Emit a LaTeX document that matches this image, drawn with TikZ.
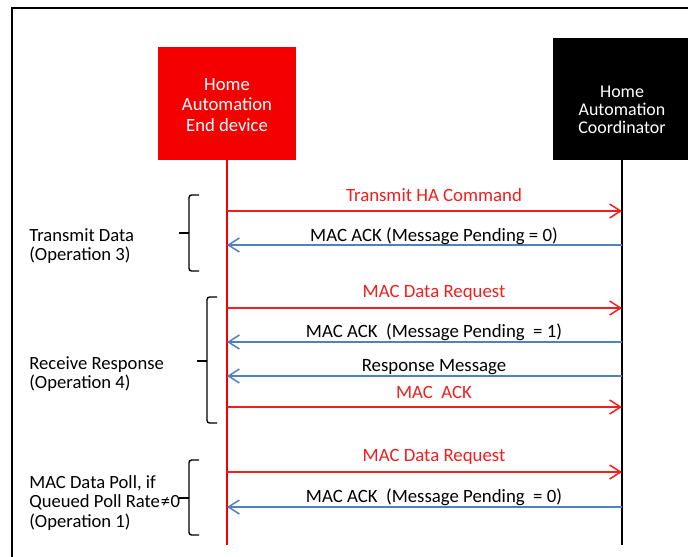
\documentclass[tikz,border=0pt]{standalone}
\usepackage{fontspec}
\setmainfont{Carlito}
\usepackage{xcolor}
\usepackage{tikz}
\usetikzlibrary{arrows.meta, positioning}
\definecolor{devred}{RGB}{245,0,0}
\definecolor{msgred}{RGB}{240,30,30}
\definecolor{ackblue}{RGB}{79,129,189}
\tikzset{
  % Participant boxes
  devbox/.style={rectangle, minimum width=2.76cm, minimum height=2.26cm, fill=devred},
  coordbox/.style={rectangle, minimum width=2.76cm, minimum height=2.44cm, fill=black},
  boxtext/.style={text=white, align=center, font=\fontsize{10.6}{11.8}\selectfont},
  % Messages
  reqarrow/.style={-{Straight Barb[length=2.2mm, width=2.8mm]}, msgred, line width=0.85pt},
  ackarrow/.style={-{Straight Barb[length=2.2mm, width=2.8mm]}, ackblue, line width=0.85pt},
  reqlabel/.style={text=msgred, font=\fontsize{10.7}{12}\selectfont},
  acklabel/.style={text=black, font=\fontsize{10.7}{12}\selectfont},
  % Operation groups
  bracket/.style={black, line width=0.8pt, rounded corners=1.5pt},
  oplabel/.style={anchor=west, align=left, inner sep=0pt, font=\fontsize{10.6}{10.9}\selectfont},
  frame/.style={black, line width=1.4pt},
}

\begin{document}
\begin{tikzpicture}[x=0.02cm, y=-0.02cm]
    \useasboundingbox (0,0) rectangle (688,556);
    % Outer frame (cut off at right and bottom)
    \draw[frame] (12,570) -- (12,8) -- (700,8);
    % Participants
    \node[devbox] (dev) at (227,103.5) {};
    \node[boxtext] (devtxt) at (227,105) {Home\\Automation\\End device};
    \node[coordbox] (coord) at (622,99) {};
    \node[boxtext, font=\fontsize{10.2}{10.3}\selectfont] (coordtxt) at (622,110) {Home\\Automation\\Coordinator};
    % Lifelines
    \coordinate (devend) at (227,545);
    \coordinate (coordend) at (622,545);
    \draw[devred, line width=0.9pt] (dev.south) -- (devend);
    \draw[black, line width=0.9pt] (coord.south) -- (coordend);
    % End device -> coordinator
    \foreach \n/\ya/\yl/\txt in {1/211/195/Transmit HA Command, 3/308/293/MAC Data Request,
                                 6/407/392/{MAC~ ACK}, 7/472/457/MAC Data Request} {
      \coordinate (e\n) at (227,\ya);
      \coordinate (c\n) at (622,\ya);
      \draw[reqarrow] (e\n) -- (c\n);
      \node[reqlabel] (m\n) at (434,\yl) {\txt};
    }
    % Coordinator -> end device
    \foreach \n/\ya/\yl/\txt in {2/245/236/{MAC ACK (Message Pending = 0)},
                                 4/342/332/{MAC ACK~ (Message Pending~ = 1)},
                                 5/376/367/Response Message,
                                 8/507/497/{MAC ACK~ (Message Pending~ = 0)}} {
      \coordinate (e\n) at (227,\ya);
      \coordinate (c\n) at (622,\ya);
      \draw[ackarrow] (c\n) -- (e\n);
      \node[acklabel] (m\n) at (434,\yl) {\txt};
    }
    % Braces: x / top / bottom / tip
    \foreach \bx/\ytop/\ybot/\ytip in {189/195/271/233, 207/297/423/361, 189/460/535/498} {
      \draw[bracket] (\bx+10,\ytop) -- (\bx,\ytop) -- (\bx,\ybot) -- (\bx+10,\ybot);
      \draw[bracket] (\bx,\ytip) -- (\bx-10,\ytip);
    }
    % Operation labels
    \node[oplabel] (op3) at (29,246) {Transmit Data\\(Operation 3)};
    \node[oplabel] (op4) at (29,374) {Receive Response\\(Operation 4)};
    \node[oplabel] (op1) at (29,503) {MAC Data Poll, if\\Queued Poll Rate\hspace{0.05em}≠\hspace{0.03em}0\\(Operation 1)};
  \end{tikzpicture}
\end{document}
